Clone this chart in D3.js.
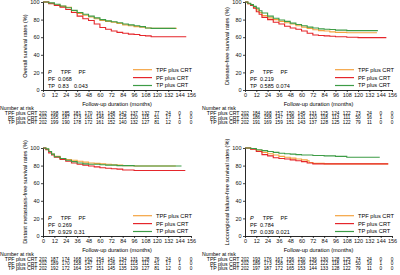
<!DOCTYPE html>
<html>
<head>
<meta charset="utf-8">
<script src="https://cdn.jsdelivr.net/npm/d3@7"></script>
<style>
  body { margin: 0; background: #fff; }
  svg { display: block; font-family: "Liberation Sans", Arial, sans-serif; }
</style>
</head>
<body>
<div id="chart"></div>
<script>
// tick labels + groups
const xTicks = [0, 12, 24, 36, 48, 60, 72, 84, 96, 108, 120, 132, 144, 156];
const yTicks = [0, 20, 40, 60, 80, 100];
const groups = ['TPF plus CRT', 'PF plus CRT', 'TP plus CRT'];
const colors = ['#f4a340', '#e5262b', '#3d9c46'];

// overall survival  [month, %]
const osTPF = [[0,100],[6,98.5],[12,96.5],[18,95],[24,94],[30,90],[36,87],[42,85],[48,83],[54,81],[60,79],[66,78],[72,77],[78,75.5],[84,74],[90,73],[96,72],[102,71.5],[108,70.5],[114,70],[141,70]];
const osPF  = [[0,100],[6,98],[12,96],[18,94],[24,91.5],[30,88],[36,84],[42,81],[48,79],[54,75],[60,71],[66,69],[72,67],[78,65.5],[84,64.5],[90,63.5],[96,63],[102,62],[108,61.5],[114,60.5],[151,60.5]];
const osTP  = [[0,100],[6,99],[12,97.5],[18,95.5],[24,93.5],[30,90.5],[36,88],[42,86],[48,84],[54,82],[60,80],[66,78.5],[72,77.5],[78,76.5],[84,75],[90,74],[96,73],[102,72],[108,70.5],[114,70],[140,70]];

// disease-free survival
const dfsTPF = [[0,100],[3,98],[6,96],[9,94],[12,91],[15,88],[18,84.5],[24,82],[30,80],[36,78],[42,76.5],[48,75],[54,73],[60,71.5],[66,70],[72,68.5],[78,67.5],[84,67],[90,66],[96,65.5],[108,65],[140,65]];
const dfsPF  = [[0,100],[3,98],[6,96],[9,93],[12,89],[15,86],[18,82.5],[24,80],[30,77],[36,75],[42,72.5],[48,70.5],[54,69],[60,67],[66,64.5],[72,62.5],[78,62],[84,61.5],[90,61],[96,60.5],[108,60],[120,59.5],[150,59.5]];
const dfsTP  = [[0,100],[3,98.5],[6,97],[9,95],[12,93],[15,90],[18,87.5],[24,84],[30,81.5],[36,79.5],[42,78],[48,76],[54,74.5],[60,73],[66,71.5],[72,70.5],[78,69.5],[84,69],[90,68.8],[96,68],[108,67.5],[141,67.5]];

// distant metastasis-free survival
const dmTPF = [[0,100],[3,98.5],[6,96],[9,93],[12,90.5],[18,88],[24,87],[30,86],[36,85],[42,84],[48,83],[54,82.5],[60,82],[66,81.5],[72,81],[78,80.5],[84,80],[96,79.5],[140,79.5]];
const dmPF  = [[0,100],[3,98],[6,94.5],[9,92],[12,89.5],[18,87],[24,85],[30,83],[36,81.5],[42,80.5],[48,79.5],[54,78.5],[60,77.5],[66,77],[72,76.5],[78,76],[84,75],[96,74.5],[150,74.5]];
const dmTP  = [[0,100],[3,99],[6,96],[9,93],[12,90],[18,88],[24,86],[30,84.5],[36,83],[42,82],[48,81.5],[54,81.5],[60,81],[66,80.5],[72,80.5],[78,80],[84,80],[96,79.5],[146,79.5]];

// locoregional failure-free survival
const lrTPF = [[0,100],[6,99],[12,97.5],[18,95],[24,93.5],[30,92],[36,90.5],[42,89.5],[48,88.5],[54,87.5],[60,86.5],[66,85.5],[68,83.5],[72,82.5],[84,82],[152,82]];
const lrPF  = [[0,100],[6,98.5],[12,96],[18,92.5],[24,91],[30,89],[36,88],[42,87.5],[48,86.5],[54,85.5],[60,84.5],[66,83],[72,82],[152,82]];
const lrTP  = [[0,100],[6,99.5],[12,98],[18,97],[24,96],[30,95],[36,94],[42,93.5],[48,93],[54,92.5],[60,92],[72,91.5],[84,91],[96,90.5],[108,89.5],[143,89.5]];

// log-rank p values: [PF vs TPF], [TP vs TPF, TP vs PF]
const osP  = [['0.068'], ['0.83', '0.043']];
const dfsP = [['0.219'], ['0.585', '0.074']];
const dmP  = [['0.269'], ['0.929', '0.31']];
const lrP  = [['0.784'], ['0.039', '0.021']];

// numbers at risk
const osRisk = [
  [202,198,185,181,170,161,148,142,137,132,77,24,0,0],
  [202,195,187,173,161,146,132,125,120,115,51,17,1,0],
  [202,199,190,178,172,161,152,140,132,127,81,12,0,0]
];
const dfsRisk = [
  [202,184,168,157,150,145,131,125,124,122,73,24,0,0],
  [202,186,158,147,139,131,120,118,113,111,50,16,1,0],
  [202,191,169,159,151,143,137,128,125,122,79,11,0,0]
];
const dmRisk = [
  [202,187,174,168,162,154,141,134,131,128,76,24,0,0],
  [202,189,170,158,147,137,126,121,115,112,51,17,1,0],
  [202,192,172,164,157,151,145,135,129,127,81,12,0,0]
];
const lrRisk = [
  [202,193,176,167,156,150,136,130,128,125,74,24,0,0],
  [202,189,173,158,152,139,125,122,118,114,50,16,1,0],
  [202,197,187,172,165,153,144,133,128,122,79,11,0,0]
];

const svg = d3.select('#chart').append('svg').attr('width', 400).attr('height', 275);

const panels = [
  {x: 43,  y: 2,   w: 148, h: 88, title: 'Overall survival rates (%)', curves: [osTPF, osPF, osTP], p: osP, risk: osRisk},
  {x: 245, y: 2,   w: 147, h: 88, title: 'Disease-free survival rates (%)', curves: [dfsTPF, dfsPF, dfsTP], p: dfsP, risk: dfsRisk},
  {x: 43,  y: 148, w: 148, h: 88, title: 'Distant metastasis-free survival rates (%)', curves: [dmTPF, dmPF, dmTP], p: dmP, risk: dmRisk},
  {x: 245, y: 148, w: 147, h: 88, title: 'Locoregional failure-free survival rates (%)', curves: [lrTPF, lrPF, lrTP], p: lrP, risk: lrRisk}
];

function drawPanel(p){
  const g = svg.append('g').attr('transform', `translate(${p.x},${p.y})`);
  const x = d3.scaleLinear().domain([0, 156]).range([0, p.w]);
  const y = d3.scaleLinear().domain([0, 100]).range([p.h, 0]);

  // curves
  const line = d3.line().x(d => x(d[0])).y(d => y(d[1])).curve(d3.curveStepAfter);
  p.curves.forEach((c, i) => {
    g.append('path').datum(c)
      .attr('d', line)
      .attr('fill', 'none')
      .attr('stroke', colors[i])
      .attr('stroke-width', 1.1);
  });

  // axes
  const xa = g.append('g').attr('transform', `translate(0,${p.h})`)
    .call(d3.axisBottom(x).tickValues(xTicks).tickSize(2).tickSizeOuter(0).tickPadding(1.5));
  const ya = g.append('g')
    .call(d3.axisLeft(y).tickValues(yTicks).tickSize(2).tickSizeOuter(0).tickPadding(1.5));
  [xa, ya].forEach(a => {
    a.selectAll('text').style('font-size', '5.5px').attr('fill', '#111').style('font-family', '"Liberation Sans", Arial, sans-serif');
    a.select('.domain').attr('stroke', '#111').attr('stroke-width', 0.9);
    a.selectAll('.tick line').attr('stroke', '#111').attr('stroke-width', 0.8);
  });

  g.append('text')
    .attr('transform', `translate(-18,${p.h/2}) rotate(-90)`)
    .attr('text-anchor', 'middle')
    .attr('dy', '0.35em')
    .style('font-size', '5.7px')
    .text(p.title);

  g.append('text')
    .attr('x', p.w/2).attr('y', p.h + 13.8)
    .attr('text-anchor', 'middle').attr('dy', '0.35em')
    .style('font-size', '5.6px')
    .text('Follow-up duration (months)');

  // legend
  groups.forEach((name, i) => {
    const ly = p.h - 20.3 + i*7.9;
    g.append('line')
      .attr('x1', 90).attr('x2', 109).attr('y1', ly).attr('y2', ly)
      .attr('stroke', colors[i]).attr('stroke-width', 1.2);
    g.append('text')
      .attr('x', 113).attr('y', ly).attr('dy', '0.35em')
      .style('font-size', '5.7px')
      .text(name);
  });

  // p table
  const pt = g.append('g').style('font-size', '5.5px');
  const r0 = p.h - 18.3, r1 = p.h - 10.8, r2 = p.h - 4;
  pt.append('text').attr('x', 5).attr('y', r0).attr('dy', '0.35em').style('font-style', 'italic').text('P');
  pt.append('text').attr('x', 23).attr('y', r0).attr('dy', '0.35em').attr('text-anchor', 'middle').text('TPF');
  pt.append('text').attr('x', 39).attr('y', r0).attr('dy', '0.35em').attr('text-anchor', 'middle').text('PF');
  pt.append('text').attr('x', 5).attr('y', r1).attr('dy', '0.35em').text('PF');
  pt.append('text').attr('x', 5).attr('y', r2).attr('dy', '0.35em').text('TP');
  pt.append('text').attr('x', 15).attr('y', r1).attr('dy', '0.35em').text(p.p[0][0]);
  pt.append('text').attr('x', 15).attr('y', r2).attr('dy', '0.35em').text(p.p[1][0]);
  pt.append('text').attr('x', 31).attr('y', r2).attr('dy', '0.35em').text(p.p[1][1]);

  // number at risk table
  const rk = g.append('g').style('font-size', '5.2px');
  rk.append('text').attr('x', -43).attr('y', p.h + 18.5).attr('dy', '0.35em').text('Number at risk');
  const rowY = [23, 27.7, 32.4];
  groups.forEach((name, i) => {
    const ry = p.h + rowY[i];
    rk.append('text').attr('x', -5.5).attr('y', ry).attr('dy', '0.35em')
      .attr('text-anchor', 'end').text(name);
    rk.selectAll(null).data(p.risk[i]).enter().append('text')
      .attr('x', (d, j) => x(xTicks[j]))
      .attr('y', ry).attr('dy', '0.35em')
      .attr('text-anchor', 'middle')
      .style('font-size', '4.7px')
      .text(d => d);
  });
}

panels.forEach(drawPanel);
</script>
</body>
</html>
